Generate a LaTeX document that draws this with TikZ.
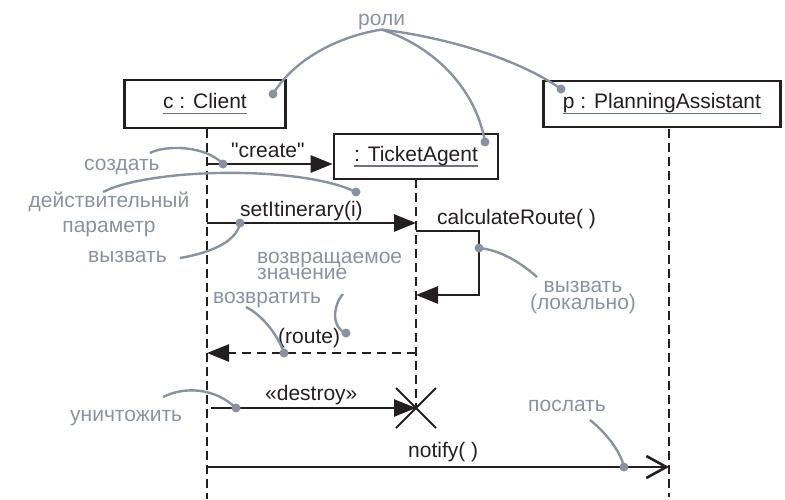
\documentclass[tikz,border=0pt]{standalone}
\usepackage{fontspec}
\setmainfont{Liberation Sans}
\usetikzlibrary{arrows.meta,positioning}
\definecolor{ink}{RGB}{35,31,32}
\definecolor{annot}{RGB}{138,146,162}
\definecolor{rulegray}{RGB}{110,114,124}
\newsavebox{\objbox}
\newcommand{\objname}[1]{\sbox{\objbox}{#1}\rlap{\color{rulegray}\rule[-5.5pt]{\wd\objbox}{1.5pt}}\usebox{\objbox}}

\begin{document}
\begin{tikzpicture}[
  x=1pt, y=-1pt,
  every node/.style={font=\fontsize{21}{21}\selectfont, inner sep=0pt, text=ink},
  object/.style={draw=ink, line width=2.6pt, inner sep=0pt},
  lifeline/.style={ink, line width=2.6pt, dash pattern=on 9pt off 5pt},
  call/.style={ink, line width=2.6pt, -{Triangle[length=22pt,width=17pt]}},
  reply/.style={call, dash pattern=on 9pt off 6pt},
  signal/.style={ink, line width=2.6pt, -{Straight Barb[length=20pt,width=22pt]}},
  note/.style={text=annot},
  lead/.style={annot, line width=2.4pt}]

\useasboundingbox (0,0) rectangle (785,499);

% --- Objects ---
\node[object, minimum width=161pt, minimum height=48pt] (client)  at (205,104)   {\objname{c : Client}};
\node[object, minimum width=164pt, minimum height=45pt] (agent)   at (416,156.5) {\objname{: TicketAgent}};
\node[object, minimum width=237pt, minimum height=46pt] (planner) at (662,104)   {\objname{p : PlanningAssistant}};

% --- Lifelines ---
\coordinate (clTop) at (207,129);
\coordinate (clBot) at (207,499);
\coordinate (agTop) at (416,179);
\coordinate (agEnd) at (416,408);
\coordinate (plTop) at (669,129);
\coordinate (plBot) at (669,497);
\draw[lifeline] (clTop) -- (clBot);
\draw[lifeline] (agTop) -- (agEnd);
\draw[lifeline] (plTop) -- (plBot);

% --- Messages ---
\coordinate (mCreate)  at (207,164);
\coordinate (mSet)     at (207,223);
\coordinate (mSelf)    at (416,231);
\coordinate (mBack)    at (416,295);
\coordinate (mRet)     at (416,353);
\coordinate (mDestroy) at (211,408);
\coordinate (mNotify)  at (207,467);

\draw[call]   (mCreate) -- (mCreate -| agent.west);
\draw[call]   (mSet) -- (mSet -| agTop);
\draw[call]   (mSelf) -- ++(63,0) |- (mBack);
\draw[reply]  (mRet) -- (mRet -| clTop);
\draw[call]   (mDestroy) -- (agEnd);
\draw[signal] (mNotify) -- (mNotify -| plTop);

% destruction mark
\draw[ink, line width=2pt] (agEnd) +(-20,-20) -- +(20,20) +(-20,20) -- +(20,-20);

\node[anchor=base west] (lCreate)  at (231,157) {\textquotedbl create\textquotedbl};
\node[anchor=base west] (lSet)     at (240,216) {setItinerary(i)};
\node[anchor=base west] (lCalc)    at (437,224) {calculateRoute( )};
\node[anchor=base west] (lRoute)   at (278,343) {(route)};
\node[anchor=base west] (lDestroy) at (265,400) {«destroy»};
\node[anchor=base west] (lNotify)  at (408,457) {notify( )};

% --- Annotations ---
\node[note, anchor=base west] (nRoles)   at (358,25)  {роли};
\node[note, anchor=base west] (nCreate)  at (84,170)  {создать};
\node[note, anchor=base, align=center, font=\fontsize{21}{25}\selectfont]
  (nParam) at (109,232) {действительный\\параметр};
\node[note, anchor=base west] (nCall)    at (88,262)  {вызвать};
\node[note, anchor=base west, align=left, font=\fontsize{21}{16}\selectfont]
  (nValue) at (257,279) {возвращаемое\\значение};
\node[note, anchor=base west] (nReturn)  at (213,303) {возвратить};
\node[note, anchor=base, align=center, font=\fontsize{21}{17}\selectfont]
  (nLocal) at (583,309) {вызвать\\(локально)};
\node[note, anchor=base west] (nDestroy) at (70,421)  {уничтожить};
\node[note, anchor=base west] (nSend)    at (528,411) {послать};

\coordinate (dClient)  at (273,94);
\coordinate (dAgent)   at (485,142);
\coordinate (dPlanner) at (561,89);
\coordinate (dCreate)  at (223,164);
\coordinate (dParam)   at (356,192);
\coordinate (dCall)    at (240,223);
\coordinate (dValue)   at (346,333);
\coordinate (dReturn)  at (284,353);
\coordinate (dLocal)   at (479,248);
\coordinate (dDestroy) at (236,408);
\coordinate (dSend)    at (624,467);

\coordinate (sCreate)  at (150,153);
\coordinate (sParam)   at (103,192);
\coordinate (sCall)    at (180,258);
\coordinate (sValue)   at (343,294);
\coordinate (sReturn)  at (246,307);
\coordinate (sLocal)   at (537,277);
\coordinate (sDestroy) at (163,397);
\coordinate (sSend)    at (590,420);

\draw[lead] (nRoles.south) .. controls (340,36) and (295,58) .. (dClient);
\draw[lead] (nRoles.south) .. controls (430,45) and (475,85) .. (dAgent);
\draw[lead] (nRoles.south) .. controls (450,38) and (520,60) .. (dPlanner);
\draw[lead] (sCreate)  .. controls (165,145) and (205,145) .. (dCreate);
\draw[lead] (sParam)   .. controls (150,168) and (300,165) .. (dParam);
\draw[lead] (sCall)    .. controls (215,252) and (237,240) .. (dCall);
\draw[lead] (sValue)   .. controls (333,305) and (331,328) .. (dValue);
\draw[lead] (sReturn)  .. controls (262,315) and (278,335) .. (dReturn);
\draw[lead] (sLocal)   .. controls (520,262) and (500,250) .. (dLocal);
\draw[lead] (sDestroy) .. controls (185,386) and (215,388) .. (dDestroy);
\draw[lead] (sSend)    .. controls (605,432) and (620,450) .. (dSend);

\foreach \d in {dClient,dAgent,dPlanner,dCreate,dParam,dCall,
                dValue,dReturn,dLocal,dDestroy,dSend}
  \fill[annot] (\d) circle (4.5pt);

\end{tikzpicture}
\end{document}
